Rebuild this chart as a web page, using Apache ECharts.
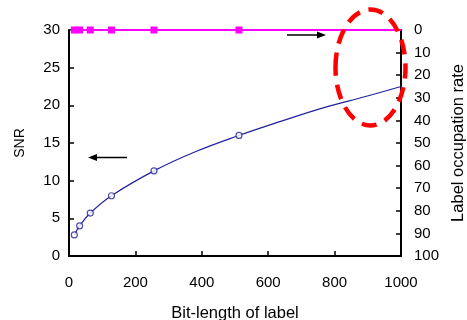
<!DOCTYPE html>
<html><head><meta charset="utf-8">
<script src="https://cdn.jsdelivr.net/npm/echarts@6/dist/echarts.min.js"></script>
<style>html,body{margin:0;padding:0;background:#fff}#c{width:467px;height:320px}</style>
</head><body><div id="c"></div>
<script>
// Bit-lengths where measurements were taken
const bitLengths = [16, 32, 64, 128, 256, 512];
// SNR measured values (left axis)
const snrValues = [2.8, 4.0, 5.7, 8.0, 11.3, 16.0];
// Smooth trend curve for SNR
const trendX = [16, 32, 64, 128, 256, 384, 512, 640, 768, 896, 1000];
const trendY = [2.8, 4.0, 5.7, 8.0, 11.3, 13.9, 16.0, 17.9, 19.7, 21.2, 22.5];
// Label occupation rate (right axis, inverted)
const occX = [16, 32, 64, 128, 256, 512, 1000];
const occValues = [0, 0, 0, 0, 0, 0, 0];
const occMarked = [true, true, true, true, true, true, false];
// Tick labels
const xTicks = [0, 200, 400, 600, 800, 1000];
const leftTicks = [0, 5, 10, 15, 20, 25, 30];
const rightTicks = [0, 10, 20, 30, 40, 50, 60, 70, 80, 90, 100];

const FONT = 'Liberation Sans, Arial, sans-serif';
const chart = echarts.init(document.getElementById('c'), null, {renderer: 'canvas'});

const axisLineStyle = {color: '#000', width: 2};
const tickStyle = {show: true, inside: true, length: 5, lineStyle: {color: '#000', width: 1.5}};
const labelStyle = {fontFamily: FONT, fontSize: 15, color: '#000'};
const option = {
  backgroundColor: '#fff',
  animation: false,
  grid: {left: 69, right: 66, top: 30, bottom: 64, containLabel: false, outerBoundsMode: 'none'},
  xAxis: {
    type: 'value', min: xTicks[0], max: xTicks[xTicks.length - 1], interval: 200,
    name: 'Bit-length of label', nameLocation: 'middle', nameGap: 49,
    nameTextStyle: {fontFamily: FONT, fontSize: 16.5, color: '#000'},
    axisLine: {show: true, onZero: false, lineStyle: axisLineStyle},
    axisTick: tickStyle,
    axisLabel: Object.assign({margin: 19, formatter: v => String(v)}, labelStyle),
    splitLine: {show: false}
  },
  yAxis: [{
    type: 'value', min: leftTicks[0], max: leftTicks[leftTicks.length - 1], interval: 5,
    position: 'left',
    name: 'SNR', nameLocation: 'middle', nameGap: 42, nameRotate: 90,
    nameTextStyle: {fontFamily: FONT, fontSize: 14, color: '#000'},
    axisLine: {show: true, onZero: false, lineStyle: axisLineStyle},
    axisTick: tickStyle,
    axisLabel: Object.assign({margin: 9}, labelStyle),
    splitLine: {show: false}
  }, {
    type: 'value', min: rightTicks[0], max: rightTicks[rightTicks.length - 1], interval: 10,
    position: 'right', inverse: true,
    name: 'Label occupation rate', nameLocation: 'middle', nameGap: 48, nameRotate: 90,
    nameTextStyle: {fontFamily: FONT, fontSize: 16.5, color: '#000'},
    axisLine: {show: true, onZero: false, lineStyle: axisLineStyle},
    axisTick: tickStyle,
    axisLabel: Object.assign({margin: 13}, labelStyle),
    splitLine: {show: false}
  }],
  series: [{
    type: 'line', name: 'occ', yAxisIndex: 1, z: 3,
    data: occX.map((x, i) => occMarked[i] ? [x, occValues[i]] : {value: [x, occValues[i]], symbol: 'none'}),
    symbol: 'rect', symbolSize: 7, showAllSymbol: true,
    lineStyle: {color: '#ff00ff', width: 2},
    itemStyle: {color: '#ff00ff', borderWidth: 0},
    clip: false
  }, {
    type: 'line', name: 'trend', yAxisIndex: 0, z: 2,
    data: trendX.map((x, i) => [x, trendY[i]]),
    smooth: 0.4, symbol: 'none',
    lineStyle: {color: '#22229a', width: 1.2}
  }, {
    type: 'scatter', name: 'snr', yAxisIndex: 0, z: 4,
    data: bitLengths.map((x, i) => [x, snrValues[i]]),
    symbol: 'circle', symbolSize: 6,
    itemStyle: {color: '#fff', borderColor: '#22229a', borderWidth: 1.2}
  }]
};
chart.setOption(option);

// Annotations: arrows and dashed ellipse
function arrow(x1, x2, y) {
  const dir = x2 > x1 ? 1 : -1;
  return [{
    type: 'line', shape: {x1: x1, y1: y, x2: x2 - dir * 5, y2: y},
    style: {stroke: '#000', lineWidth: 1.3}, z: 10
  }, {
    type: 'polygon', shape: {points: [[x2, y], [x2 - dir * 9, y - 3.5], [x2 - dir * 9, y + 3.5]]},
    style: {fill: '#000'}, z: 10
  }];
}
chart.setOption({
  graphic: [].concat(arrow(127, 88, 157.5), arrow(287, 326, 35), [{
    type: 'ellipse', shape: {cx: 370.5, cy: 67.5, rx: 35, ry: 58},
    style: {fill: 'none', stroke: '#ff0000', lineWidth: 4.5, lineDash: [15, 9]}, z: 20
  }])
});
</script></body></html>
